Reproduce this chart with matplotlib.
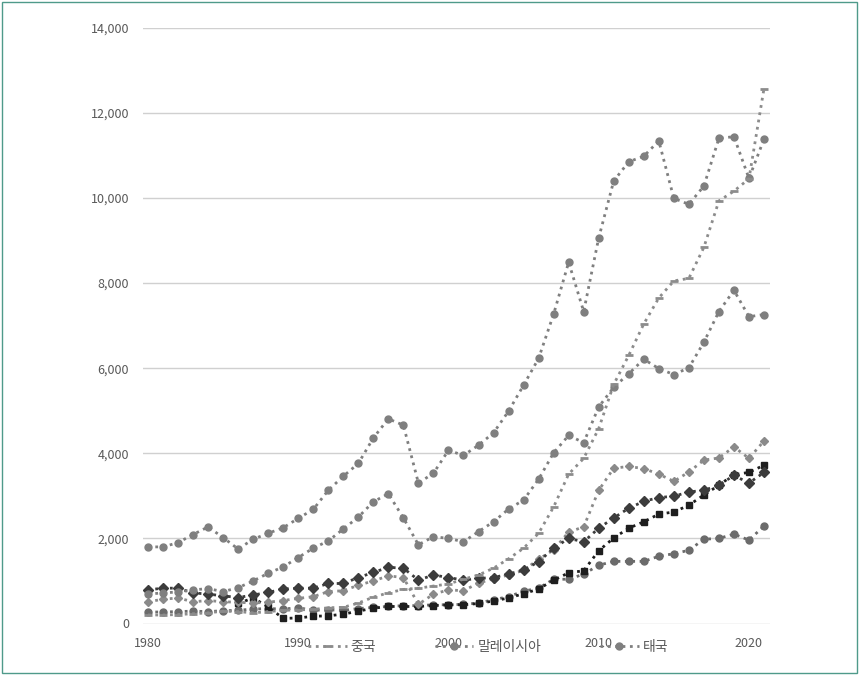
import numpy as np
import matplotlib
matplotlib.use("Agg")
import matplotlib.pyplot as plt
from matplotlib.patches import Rectangle

plt.rcParams['font.family'] = ['Noto Sans CJK KR', 'DejaVu Sans']

# years on the x axis
years = list(range(1980, 2022))

# values
malaysia = [1800, 1800, 1900, 2090, 2270, 2020, 1750, 1980, 2120, 2250,
            2470, 2680, 3130, 3460, 3760, 4360, 4810, 4660, 3300, 3530,
            4070, 3950, 4190, 4480, 4990, 5600, 6230, 7270, 8490, 7330,
            9060, 10400, 10850, 10980, 11340, 9990, 9850, 10280, 11400, 11440,
            10460, 11380]
thailand = [690, 720, 740, 790, 820, 750, 840, 1000, 1180, 1330,
            1550, 1770, 1940, 2220, 2500, 2860, 3050, 2480, 1850, 2040,
            2000, 1920, 2160, 2390, 2690, 2900, 3390, 4010, 4420, 4250,
            5090, 5550, 5870, 6210, 5990, 5850, 6010, 6610, 7330, 7830,
            7210, 7260]
china = [200, 200, 210, 230, 250, 290, 280, 250, 280, 310,
         320, 330, 370, 380, 480, 620, 720, 800, 830, 880,
         930, 1040, 1140, 1300, 1520, 1770, 2120, 2740, 3510, 3880,
         4580, 5620, 6300, 7040, 7650, 8050, 8110, 8840, 9930, 10160,
         10450, 12570]
indonesia = [510, 570, 600, 510, 540, 510, 500, 480, 500, 540,
             590, 630, 750, 770, 900, 1000, 1120, 1080, 450, 690,
             790, 770, 950, 1050, 1140, 1250, 1510, 1730, 2150, 2270,
             3130, 3650, 3690, 3640, 3510, 3340, 3560, 3840, 3890, 4150,
             3880, 4290]
philippines = [790, 830, 830, 720, 690, 650, 610, 670, 730, 810,
               830, 830, 940, 940, 1080, 1200, 1320, 1300, 1020, 1140,
               1080, 1020, 1060, 1080, 1160, 1260, 1450, 1770, 2000, 1920,
               2240, 2480, 2710, 2870, 2960, 2990, 3090, 3130, 3250, 3480,
               3300, 3550]
vietnam = [np.nan, np.nan, np.nan, np.nan, np.nan, np.nan, 470, 600, 390, 120,
           130, 170, 180, 220, 290, 360, 400, 400, 400, 420,
           440, 440, 470, 530, 600, 700, 810, 1020, 1190, 1240,
           1710, 2010, 2240, 2390, 2570, 2620, 2780, 3020, 3250, 3500,
           3550, 3720]
india = [270, 270, 280, 290, 280, 300, 310, 340, 350, 340,
         370, 310, 320, 310, 350, 380, 400, 420, 420, 440,
         440, 450, 480, 560, 630, 760, 830, 1040, 1040, 1160,
         1370, 1460, 1460, 1460, 1580, 1640, 1720, 1980, 2000, 2100,
         1960, 2290]

fig = plt.figure(figsize=(8.6, 6.75), dpi=100)
ax = fig.add_axes([143 / 860, 51.5 / 675, 627 / 860, 595.8 / 675])

gray = '#7f7f7f'
# lower series first so the grey ones sit on top like the original
ax.plot(years, india, ':', color='#6b6b6b', lw=2, marker='o', ms=5, label='인도')
ax.plot(years, vietnam, ':', color='#1e1e1e', lw=2, marker='s', ms=5, label='베트남')
ax.plot(years, indonesia, ':', color='#8a8a8a', lw=2, marker='D', ms=4, label='인도네시아')
ax.plot(years, philippines, ':', color='#3c3c3c', lw=2, marker='D', ms=5, label='필리핀')
l_th, = ax.plot(years, thailand, ':', color=gray, lw=2, marker='o', ms=5, label='태국')
l_my, = ax.plot(years, malaysia, ':', color=gray, lw=2, marker='o', ms=5, label='말레이시아')
l_cn, = ax.plot(years, china, ':', color='#8c8c8c', lw=2, marker='_', ms=6, mew=2, label='중국')

ax.set_xlim(1979.67, 2021.4)
ax.set_ylim(0, 14000)
ax.set_yticks(range(0, 14001, 2000))
ax.set_yticklabels(['{:,}'.format(v) for v in range(0, 14001, 2000)])
ax.set_xticks([1980, 1990, 2000, 2010, 2020])
ax.tick_params(length=0, labelsize=9, colors='#595959')
ax.tick_params(axis='y', pad=10)
ax.tick_params(axis='x', pad=10)
ax.grid(axis='y', color='#d0d0d0', lw=1)
ax.set_axisbelow(True)
for s in ax.spines.values():
    s.set_visible(False)

fig.legend([l_cn, l_my, l_th], ['중국', '말레이시아', '태국'], loc='center',
           bbox_to_anchor=(488 / 860, 1 - 647 / 675), ncol=3, frameon=False,
           fontsize=10, labelcolor='#595959', handlelength=2.8,
           handletextpad=0.3, columnspacing=4.2, numpoints=1)

# thin frame round the picture
fig.patches.append(Rectangle((0.002, 0.003), 0.995, 0.994, transform=fig.transFigure,
                             fill=False, edgecolor='#4f9a8a', lw=1))

fig.savefig('out.png', dpi=100)
